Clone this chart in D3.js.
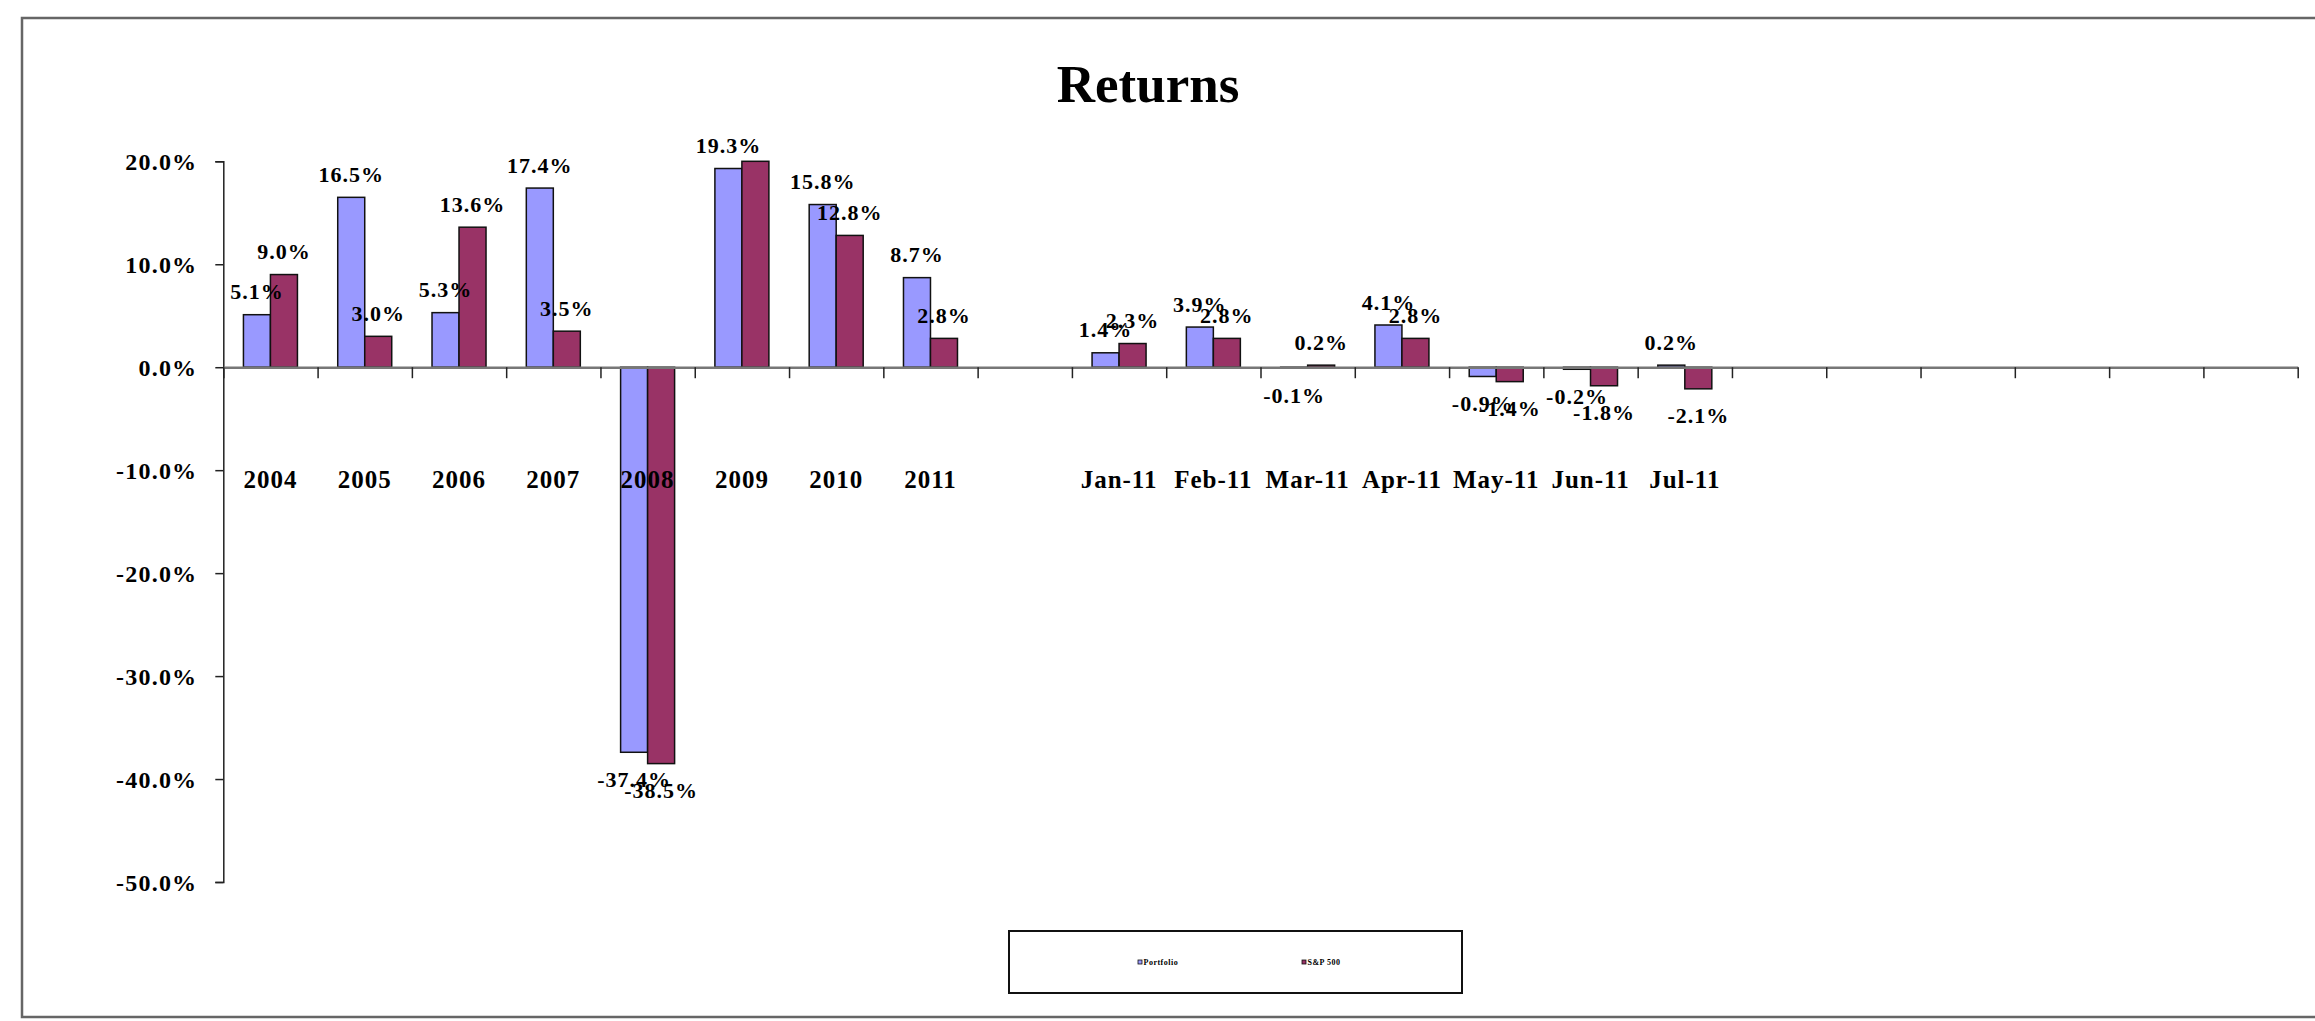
<!DOCTYPE html>
<html>
<head>
<meta charset="utf-8">
<script src="https://cdn.jsdelivr.net/npm/d3@7"></script>
<style>
  body { margin: 0; background: #fff; }
  text { font-family: "Liberation Serif", "Times New Roman", serif; font-weight: bold; fill: #000; }
</style>
</head>
<body>
<div id="display"></div>
<script>
let w = 2315;
let h = 1021;

// categories (blank slots keep the empty bands Excel left on the axis)
const categories = ['2004', '2005', '2006', '2007', '2008', '2009', '2010', '2011', '',
                    'Jan-11', 'Feb-11', 'Mar-11', 'Apr-11', 'May-11', 'Jun-11', 'Jul-11',
                    '', '', '', '', '', ''];
const seriesNames = ['Portfolio', 'S&P 500'];
const portfolio = [5.1, 16.5, 5.3, 17.4, -37.4, 19.3, 15.8, 8.7, null,
                   1.4, 3.9, -0.1, 4.1, -0.9, -0.2, 0.2];
const sp500 = [9.0, 3.0, 13.6, 3.5, -38.5, 23.5, 12.8, 2.8, null,
               2.3, 2.8, 0.2, 2.8, -1.4, -1.8, -2.1];
const yTicks = [20, 10, 0, -10, -20, -30, -40, -50];
const colors = ['#9999ff', '#993366'];

let viz = d3.select('#display')
            .append('svg')
                .attr('width', w)
                .attr('height', h)
                .style('background-color', 'white');

// outer chart border
viz.append('rect')
    .attr('x', 22).attr('y', 18)
    .attr('width', 2400).attr('height', 999)
    .attr('fill', 'none')
    .attr('stroke', '#666')
    .attr('stroke-width', 2.5);

viz.append('text')
    .attr('x', 1148).attr('y', 102)
    .attr('text-anchor', 'middle')
    .style('font-size', '53px')
    .text('Returns');

let left = 223.3, right = 2297.7;
let xScale = d3.scaleBand().domain(d3.range(categories.length)).range([left, right])
               .paddingInner(0.4273).paddingOuter(0.2136);
let xSub = d3.scaleBand().domain(seriesNames).range([0, xScale.bandwidth()]);
let yScale = d3.scaleLinear().domain([-50, 20]).range([882, 161.3]).clamp(true);

// y axis
let yAxis = d3.axisLeft(yScale)
              .tickValues(yTicks)
              .tickSize(8)
              .tickPadding(18)
              .tickFormat((d) => d.toFixed(1) + '%');
let yg = viz.append('g')
    .attr('class', 'yaxis')
    .attr('transform', 'translate(' + left + ',' + 0 + ')')
    .call(yAxis);
yg.select('.domain').attr('stroke', '#222').attr('stroke-width', 1.5);
yg.selectAll('.tick line').attr('stroke', '#222').attr('stroke-width', 1.5);
yg.selectAll('.tick text')
    .attr('fill', '#000')
    .style('font-size', '24px')
    .style('font-family', '"Liberation Serif", "Times New Roman", serif')
    .style('font-weight', 'bold')
    .style('letter-spacing', '1.2px')
    .attr('dy', '0.36em');

// bars
let rows = categories.map((c, i) => ({ i: i, vals: [portfolio[i], sp500[i]] }));
let groups = viz.append('g').selectAll('g')
    .data(rows.filter((r) => r.vals[0] != null))
    .join('g')
    .attr('transform', (d) => 'translate(' + xScale(d.i) + ',0)');

groups.selectAll('rect')
    .data((d) => d.vals.map((v, k) => ({ key: seriesNames[k], v: v, k: k })))
    .join('rect')
    .attr('x', (d) => xSub(d.key))
    .attr('width', xSub.bandwidth())
    .attr('y', (d) => yScale(Math.max(0, d.v)))
    .attr('height', (d) => Math.abs(yScale(d.v) - yScale(0)))
    .attr('fill', (d) => colors[d.k])
    .attr('stroke', '#111')
    .attr('stroke-width', 1.5);

// x axis line at zero with tick marks on band edges
let xEdge = d3.scaleLinear().domain([0, categories.length]).range([left, right]);
let xg = viz.append('g')
    .attr('class', 'xaxis')
    .attr('transform', 'translate(0,' + yScale(0) + ')')
    .call(d3.axisBottom(xEdge).tickValues(d3.range(categories.length + 1)).tickSize(11).tickSizeOuter(0).tickFormat(''));
xg.select('.domain').attr('stroke', '#777').attr('stroke-width', 2.5);
xg.selectAll('.tick line').attr('stroke', '#222').attr('stroke-width', 1.5);

// data labels (hidden when the bar runs past the axis maximum)
groups.selectAll('text')
    .data((d) => d.vals.map((v, k) => ({ key: seriesNames[k], v: v })).filter((d) => d.v <= 20))
    .join('text')
    .attr('x', (d) => xSub(d.key) + xSub.bandwidth() / 2)
    .attr('y', (d) => d.v >= 0 ? yScale(d.v) - 15.5 : yScale(d.v) + 34.5)
    .attr('text-anchor', 'middle')
    .style('font-size', '22px')
    .style('letter-spacing', '1px')
    .text((d) => d.v.toFixed(1) + '%');

// category labels
viz.append('g').selectAll('text')
    .data(categories.map((c, i) => ({ c: c, i: i })).filter((d) => d.c !== ''))
    .join('text')
    .attr('x', (d) => xScale(d.i) + xScale.bandwidth() / 2)
    .attr('y', 488)
    .attr('text-anchor', 'middle')
    .style('font-size', '25px')
    .style('letter-spacing', '1px')
    .text((d) => d.c);

// legend
let legend = viz.append('g');
legend.append('rect')
    .attr('x', 1009).attr('y', 931)
    .attr('width', 453).attr('height', 62)
    .attr('fill', 'white')
    .attr('stroke', '#111')
    .attr('stroke-width', 2);
let legendX = [1138, 1302];
seriesNames.forEach((s, k) => {
    legend.append('rect')
        .attr('x', legendX[k]).attr('y', 960)
        .attr('width', 4).attr('height', 4)
        .attr('fill', colors[k])
        .attr('stroke', '#111')
        .attr('stroke-width', 0.8);
    legend.append('text')
        .attr('x', legendX[k] + 5.5).attr('y', 964.5)
        .style('font-size', '8px')
        .style('letter-spacing', '0.5px')
        .text(s);
});
</script>
</body>
</html>
